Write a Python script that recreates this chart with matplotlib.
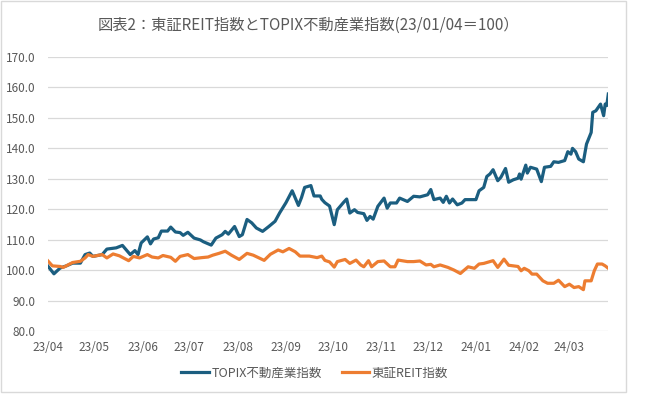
import pandas as pd
import matplotlib.pyplot as plt
from matplotlib.patches import Rectangle

plt.rcParams['font.family'] = ['Noto Sans CJK JP', 'DejaVu Sans']

# 基準日 2023/04/03 からの日数と指数値
start = pd.Timestamp("2023-04-03")

topix_days = [0, 4, 8, 12, 16, 21, 24, 27, 29, 35, 38, 44, 48, 53, 56, 58, 60, 64, 66, 68,
              71, 73, 77, 79, 82, 85, 87, 90, 94, 98, 100, 105, 108, 112, 114, 116, 120, 123,
              125, 128, 131, 134, 138, 142, 146, 149, 153, 157, 161, 163, 165, 169, 171, 175,
              176, 178, 181, 184, 186, 190, 192, 194, 197, 199, 203, 205, 207, 209, 212, 216,
              218, 220, 224, 226, 231, 235, 239, 244, 246, 248, 252, 254, 256, 258, 260, 263,
              266, 268, 272, 275, 277, 280, 282, 284, 286, 289, 291, 294, 296, 299, 302, 303,
              304, 307, 308, 310, 314, 317, 319, 323, 325, 328, 332, 334, 336, 337, 339, 341,
              344, 346, 349, 350, 352, 355, 357, 358, 359, 360]
topix = [101.5, 98.9, 100.8, 101.5, 102.4, 102.4, 105.2, 105.7, 104.6, 105.2, 107.0, 107.4,
         108.2, 105.2, 106.5, 105.2, 109.0, 111.0, 108.7, 110.3, 110.7, 112.9, 112.9, 114.2,
         112.6, 112.4, 111.5, 112.5, 110.6, 110.0, 109.4, 108.3, 110.6, 111.7, 112.8, 111.9,
         114.4, 111.1, 111.7, 116.7, 115.6, 113.9, 112.8, 114.4, 116.1, 118.9, 122.2, 126.1,
         121.3, 123.9, 127.2, 127.8, 124.4, 124.4, 123.3, 122.2, 121.1, 115.0, 119.9, 122.3,
         123.4, 118.8, 119.9, 119.0, 118.6, 116.4, 117.7, 116.8, 121.0, 123.7, 120.4, 122.1,
         122.1, 123.7, 122.6, 124.3, 124.1, 124.8, 126.5, 123.2, 123.7, 122.3, 124.3, 122.1,
         123.4, 121.5, 122.1, 123.2, 123.2, 123.2, 126.1, 127.2, 130.8, 131.6, 133.0, 129.4,
         130.5, 133.4, 128.9, 129.7, 130.2, 131.6, 129.9, 134.5, 131.9, 133.8, 133.2, 129.1,
         133.8, 134.1, 135.6, 135.4, 136.0, 138.9, 138.1, 140.0, 138.9, 136.5, 135.6, 141.4,
         145.2, 151.8, 152.3, 154.5, 150.7, 154.5, 154.0, 157.8]

reit_days = [0, 3, 8, 10, 16, 21, 24, 26, 29, 35, 38, 42, 46, 49, 52, 55, 59, 64, 67, 71,
             74, 79, 82, 85, 90, 94, 99, 103, 106, 110, 114, 118, 123, 128, 132, 139, 143,
             148, 151, 155, 159, 162, 168, 173, 176, 178, 181, 184, 186, 191, 194, 198, 201,
             203, 206, 208, 212, 216, 220, 223, 225, 231, 235, 239, 243, 246, 248, 252, 257,
             261, 265, 267, 270, 274, 277, 280, 286, 289, 293, 296, 302, 304, 306, 309, 311,
             314, 318, 321, 325, 328, 332, 335, 338, 341, 344, 345, 349, 351, 353, 356, 358, 360]
reit = [103.2, 101.5, 101.3, 101.0, 102.6, 103.0, 104.1, 105.2, 104.6, 105.2, 104.1, 105.4,
        104.8, 104.0, 103.2, 104.6, 104.1, 105.2, 104.4, 104.1, 104.9, 104.3, 103.0, 104.6,
        105.2, 103.9, 104.2, 104.4, 105.0, 105.6, 106.3, 105.0, 103.6, 105.6, 105.0, 103.3,
        105.3, 106.7, 106.1, 107.2, 106.1, 104.7, 104.7, 104.2, 104.7, 103.3, 102.8, 101.1,
        102.9, 103.6, 102.3, 103.4, 101.8, 101.2, 103.2, 101.2, 102.9, 103.1, 101.2, 101.2,
        103.4, 102.9, 102.9, 103.1, 101.8, 102.0, 101.2, 101.8, 101.0, 100.1, 99.0, 99.9,
        101.2, 100.7, 102.1, 102.3, 103.2, 101.0, 103.7, 101.7, 101.3, 99.9, 100.7, 99.9,
        98.8, 98.8, 96.6, 95.8, 95.8, 96.8, 94.7, 95.5, 94.4, 94.7, 93.7, 96.6, 96.6, 99.9,
        102.1, 102.1, 101.5, 100.7]

month_labels = ["23/04", "23/05", "23/06", "23/07", "23/08", "23/09",
                "23/10", "23/11", "23/12", "24/01", "24/02", "24/03"]

topix_dates = start + pd.to_timedelta(topix_days, unit="D")
reit_dates = start + pd.to_timedelta(reit_days, unit="D")
month_ticks = pd.date_range(start, periods=len(month_labels), freq=pd.DateOffset(months=1))

fig = plt.figure(figsize=(6.49, 3.97), dpi=100)
ax = fig.add_axes([0.0735, 0.165, 0.8638, 0.692])

ax.plot(topix_dates, topix, color="#1B5E80", linewidth=2.3, label="TOPIX不動産業指数",
        solid_joinstyle="round")
ax.plot(reit_dates, reit, color="#ED7D31", linewidth=2.3, label="東証REIT指数",
        solid_joinstyle="round")

ax.set_ylim(80, 170)
ax.set_yticks(range(80, 171, 10))
ax.set_yticklabels([f"{v:.1f}" for v in range(80, 171, 10)])
ax.set_xlim(start, start + pd.Timedelta(days=max(topix_days)))
ax.set_xticks(month_ticks)
ax.set_xticklabels(month_labels)

ax.grid(axis="y", color="#D9D9D9", linewidth=0.9)
ax.set_axisbelow(True)
for s in ax.spines.values():
    s.set_visible(False)
ax.tick_params(axis="both", length=0, labelsize=8.5, colors="#595959")
ax.tick_params(axis="y", pad=9)
ax.tick_params(axis="x", pad=7)

fig.text(0.475, 0.935, "図表2：東証REIT指数とTOPIX不動産業指数(23/01/04＝100）",
         ha="center", va="center", fontsize=11, color="#595959")

leg = fig.legend(loc="center", bbox_to_anchor=(0.485, 0.06), ncol=2, frameon=False,
                 fontsize=9, handlelength=2.2, handletextpad=0.2, columnspacing=1.6)
for t in leg.get_texts():
    t.set_color("#595959")

# グラフエリアの枠
fig.patches.append(Rectangle((1 / 649, 0.0126), 625 / 649, 0.985, transform=fig.transFigure,
                             fill=False, edgecolor="#D9D9D9", linewidth=1))

plt.savefig("out.png", dpi=100)
